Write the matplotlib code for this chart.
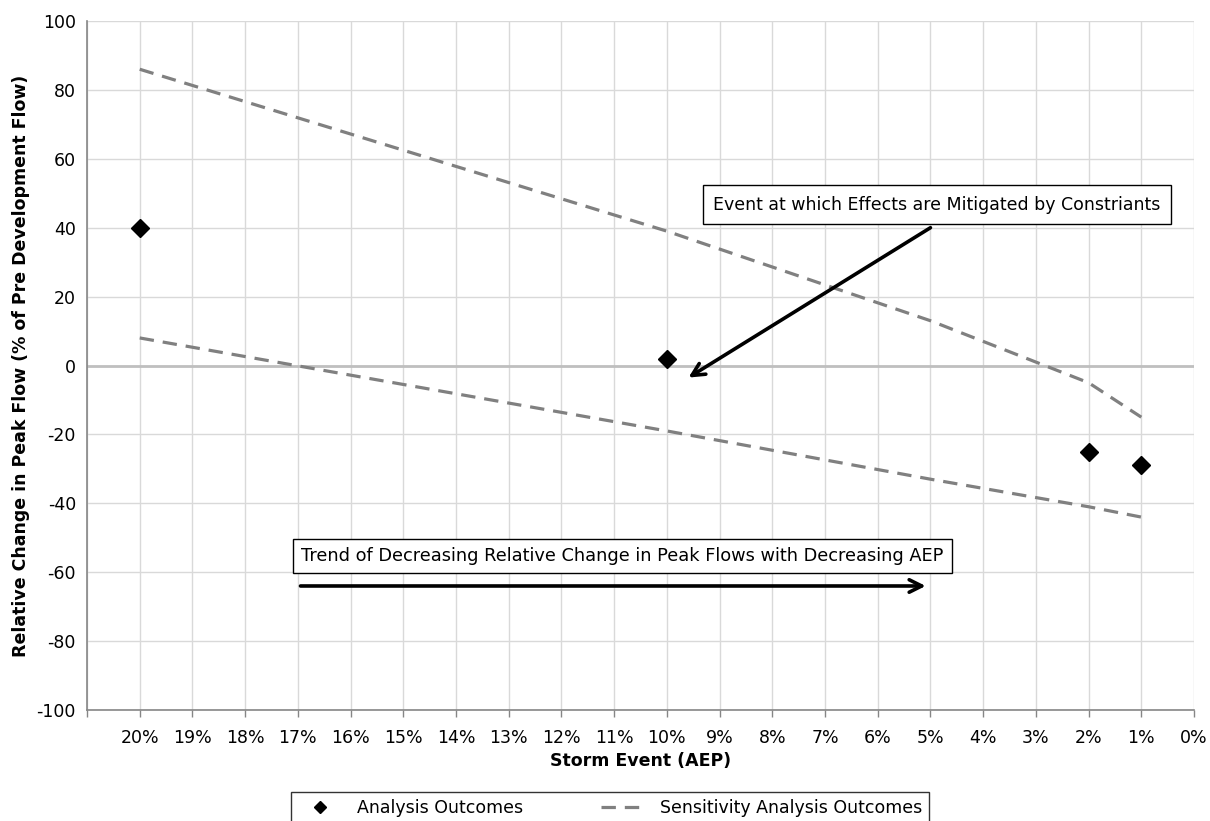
import matplotlib.pyplot as plt
import numpy as np

# storm events (AEP, %)
aep_outcomes = [20, 10, 2, 1]
change_outcomes = [40, 2, -25, -29]

aep_sens = [20, 10, 5, 2, 1]
sens_upper = [86, 39, 13, -5, -15]
sens_lower = [8, -19, -33, -41, -44]

x_ticks = list(range(21, -1, -1))
x_labels = [''] + [str(t) + '%' for t in range(20, -1, -1)]
y_ticks = list(range(-100, 101, 20))


def main():
  plt.rcParams['font.family'] = ['DejaVu Sans']
  plt.rcParams['axes.unicode_minus'] = False
  fig = plt.figure(figsize=(12.1, 8.21), dpi=100)
  ax = fig.add_axes([0.0719, 0.1352, 0.9149, 0.8392])

  ax.set_xlim(21, 0)
  ax.set_ylim(-100, 100)
  ax.set_xticks(x_ticks)
  ax.set_xticklabels(x_labels)
  ax.set_yticks(y_ticks)
  ax.tick_params(labelsize=12.5, colors='#868686', labelcolor='black', width=1)
  ax.tick_params(axis='x', length=5, pad=9)
  ax.tick_params(axis='y', length=0, pad=8)

  ax.grid(True, color='#d9d9d9', linewidth=1)
  ax.set_axisbelow(True)
  for side in ['top', 'right']:
    ax.spines[side].set_visible(False)
  for side in ['left', 'bottom']:
    ax.spines[side].set_color('#868686')
    ax.spines[side].set_linewidth(1.2)

  ax.axhline(0, color='#bfbfbf', linewidth=2, zorder=1)

  ax.plot(aep_sens, sens_upper, color='#808080', linewidth=2.3, dashes=(4.5, 2.8),
          label='Sensitivity Analysis Outcomes', zorder=2)
  ax.plot(aep_sens, sens_lower, color='#808080', linewidth=2.3, dashes=(4.5, 2.8), zorder=2)
  ax.plot(aep_outcomes, change_outcomes, linestyle='none', marker='D', markersize=9.5,
          color='black', label='Analysis Outcomes', zorder=3)

  ax.set_xlabel('Storm Event (AEP)', fontsize=12.5, fontweight='bold', labelpad=3)
  ax.set_ylabel('Relative Change in Peak Flow (% of Pre Development Flow)', fontsize=12.5,
                fontweight='bold', labelpad=5)

  box = dict(boxstyle='square,pad=0.6', facecolor='white', edgecolor='black', linewidth=1)
  arrow = dict(arrowstyle='->,head_length=0.9,head_width=0.45', color='black', linewidth=2.6,
               shrinkA=0, shrinkB=0)

  ax.annotate('', xy=(9.59, -3.5), xytext=(5.0, 40), arrowprops=arrow, zorder=4)
  ax.text(4.88, 46.7, 'Event at which Effects are Mitigated by Constriants', fontsize=12.5,
          ha='center', va='center', bbox=box, zorder=5)

  ax.annotate('', xy=(5.09, -64), xytext=(16.95, -64), arrowprops=arrow, zorder=4)
  ax.text(10.84, -55.4, 'Trend of Decreasing Relative Change in Peak Flows with Decreasing AEP',
          fontsize=12.8, ha='center', va='center', bbox=dict(boxstyle='square,pad=0.45',
          facecolor='white', edgecolor='black', linewidth=1), zorder=5)

  handles, labels = ax.get_legend_handles_labels()
  leg = fig.legend(handles[::-1], labels[::-1], loc='upper center', bbox_to_anchor=(0.504, 0.035),
                   ncol=2, fontsize=12.5, frameon=True, fancybox=False, edgecolor='black',
                   columnspacing=4.5, handlelength=2.6, borderpad=0.4, markerscale=0.6,
                   borderaxespad=0)
  leg.get_frame().set_linewidth(1)

  fig.savefig('out.png', dpi=100)


if __name__ == '__main__':
  main()
